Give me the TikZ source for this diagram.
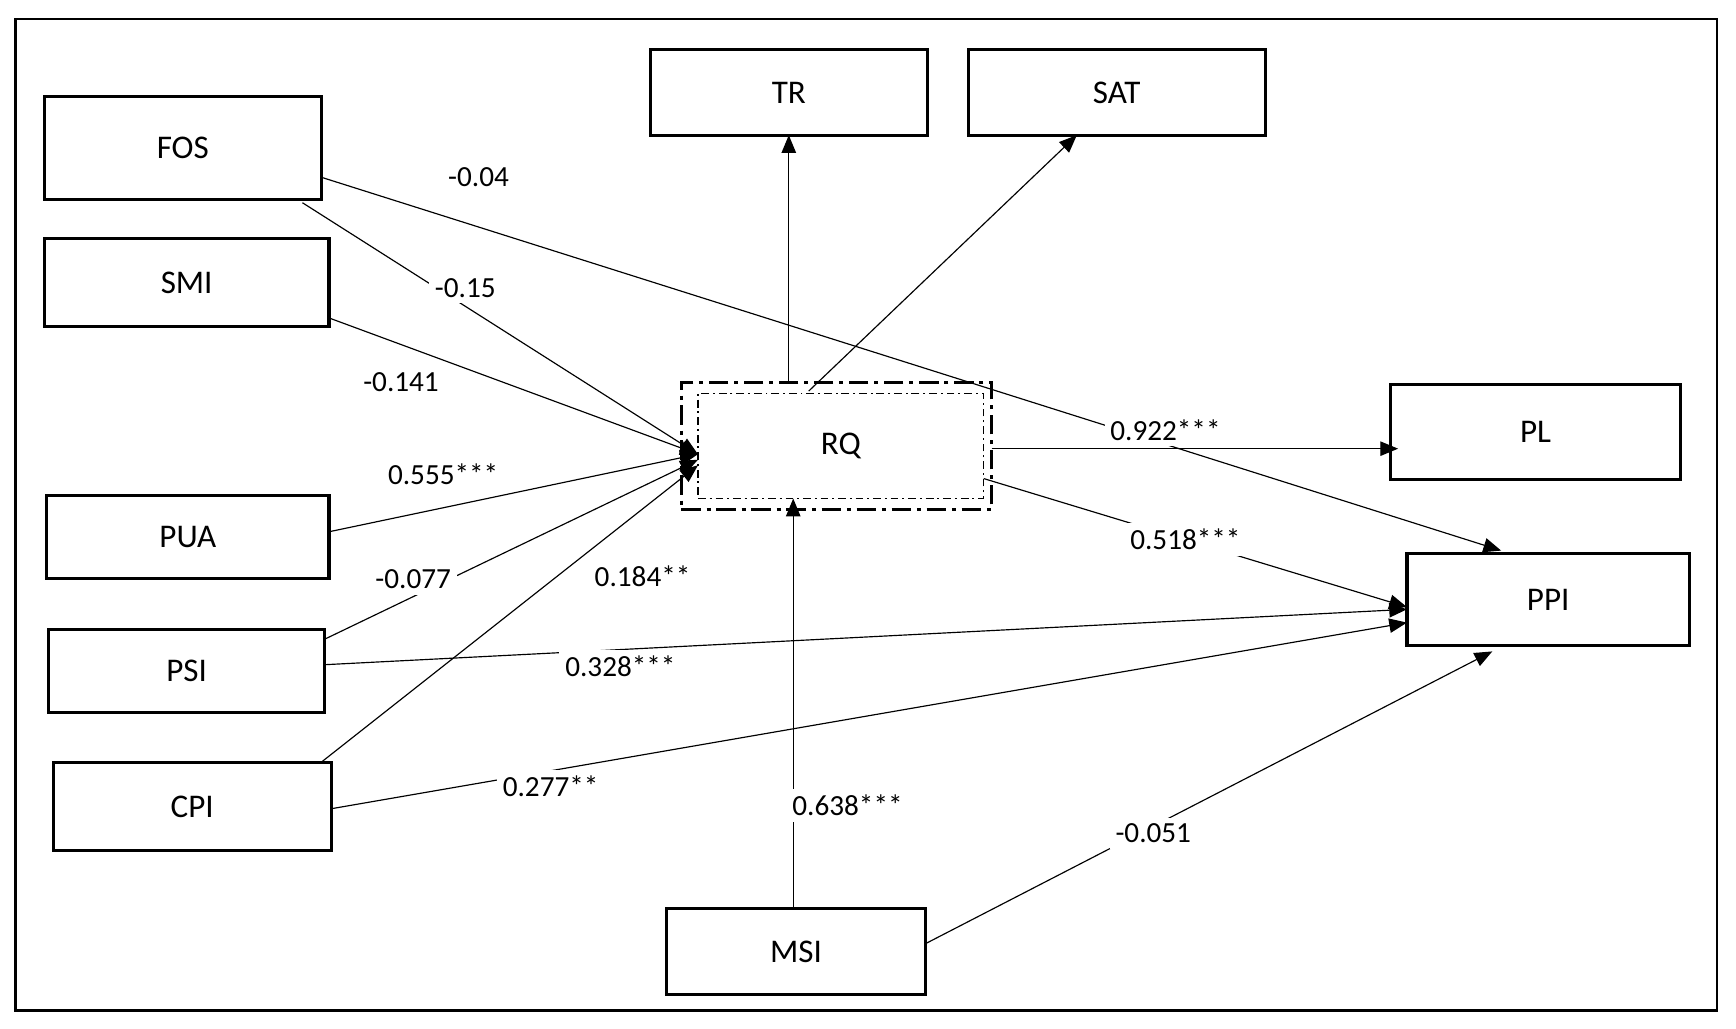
\documentclass[tikz,border=0pt]{standalone}
\usepackage{fontspec}
\setmainfont{Carlito}
\usetikzlibrary{arrows.meta}
\begin{document}
\begin{tikzpicture}[x=0.02cm,y=-0.02cm,
  box/.style={draw,line width=1.6pt,inner sep=0pt,font=\fontsize{17}{20}\selectfont},
  lab/.style={fill=white,inner sep=3pt,font=\fontsize{15}{18}\selectfont},
  arr/.style={line width=0.6pt,-{Triangle[length=0.32cm,width=0.26cm]}},
  ln/.style={line width=0.6pt}]
\useasboundingbox (0,0) rectangle (1567,928);
\draw[line width=1.2pt] (14,17) rectangle (1550,912);
\newcommand{\mybox}[6]{\node[box,minimum width={(#4-#2)*0.02cm},minimum height={(#5-#3)*0.02cm}] (#1) at ({(#2+#4)/2},{(#3+#5)/2}) {#6};}
\mybox{FOS}{40}{87}{290}{180}{FOS}
\mybox{SMI}{40}{215}{297}{295}{SMI}
\mybox{PUA}{42}{447}{297}{522}{PUA}
\mybox{PSI}{44}{568}{293}{643}{PSI}
\mybox{CPI}{48}{688}{299}{768}{CPI}
\mybox{TR}{587}{45}{837}{122}{TR}
\mybox{SAT}{874}{45}{1142}{122}{SAT}
\mybox{PL}{1255}{347}{1517}{433}{PL}
\mybox{PPI}{1270}{500}{1525}{583}{PPI}
\mybox{MSI}{602}{820}{835}{898}{MSI}
\node[draw,line width=1.6pt,dash pattern=on 10pt off 3pt on 2pt off 3pt,minimum width=5.6cm,minimum height=2.3cm,inner sep=0pt] (RQo) at (755,402.5) {};
\node[draw,line width=0.6pt,dash pattern=on 4pt off 2pt on 1pt off 2pt,minimum width=5.16cm,minimum height=1.9cm,inner sep=0pt,font=\fontsize{17}{20}\selectfont] (RQ) at (759,402.5) {RQ};
% coordinates
\coordinate (fosA) at (290,160); \coordinate (ppiT) at (1355,497);
\coordinate (fosB) at (273,183); \coordinate (rq1) at (630,410);
\coordinate (smiA) at (297,287);
\coordinate (puaA) at (297,480);
\coordinate (psiA) at (293,577); \coordinate (rq2) at (630,415);
\coordinate (cpiA) at (290,688); \coordinate (rq3) at (630,420);
\coordinate (rqT) at (712,345); \coordinate (trB) at (712,122);
\coordinate (rqS) at (730,353); \coordinate (satB) at (972,122);
\coordinate (rqR) at (895,405); \coordinate (plL) at (1262,405);
\coordinate (rqP) at (888,432); \coordinate (ppiL1) at (1270,548);
\coordinate (psiB) at (293,600); \coordinate (ppiL2) at (1270,550);
\coordinate (cpiB) at (299,730); \coordinate (ppiL3) at (1270,562);
\coordinate (msiT) at (716,820); \coordinate (rqB) at (716,450);
\coordinate (msiR) at (835,852); \coordinate (ppiB) at (1347,588);
\draw[arr] (fosA) -- (ppiT);
\draw[arr] (fosB) -- (rq1);
\draw[arr] (smiA) -- (rq1);
\draw[arr] (puaA) -- (rq1);
\draw[arr] (psiA) -- (rq2);
\draw[arr] (cpiA) -- (rq3);
\draw[arr] (rqT) -- (trB);
\draw[arr] (rqS) -- (satB);
\draw[arr] (rqR) -- (plL);
\draw[arr] (rqP) -- (ppiL1);
\draw[arr] (psiB) -- (ppiL2);
\draw[arr] (cpiB) -- (ppiL3);
\draw[arr] (msiT) -- (rqB);
\draw[arr] (msiR) -- (ppiB);
% labels
\node[lab] (l1) at (432,160) {-0.04};
\node[lab] (l2) at (420,260) {-0.15};
\node[lab] (l3) at (362,345) {-0.141};
\node[lab] (l4) at (400,428) {0.555***};
\node[lab] (l5) at (373,523) {-0.077};
\node[lab] (l6) at (580,520) {0.184**};
\node[lab] (l7) at (1052,388) {0.922***};
\node[lab] (l8) at (1070,487) {0.518***};
\node[lab] (l9) at (560,601) {0.328***};
\node[lab] (l10) at (497,710) {0.277**};
\node[lab] (l11) at (765,727) {0.638***};
\node[lab] (l12) at (1041,752) {-0.051};
\end{tikzpicture}
\end{document}
